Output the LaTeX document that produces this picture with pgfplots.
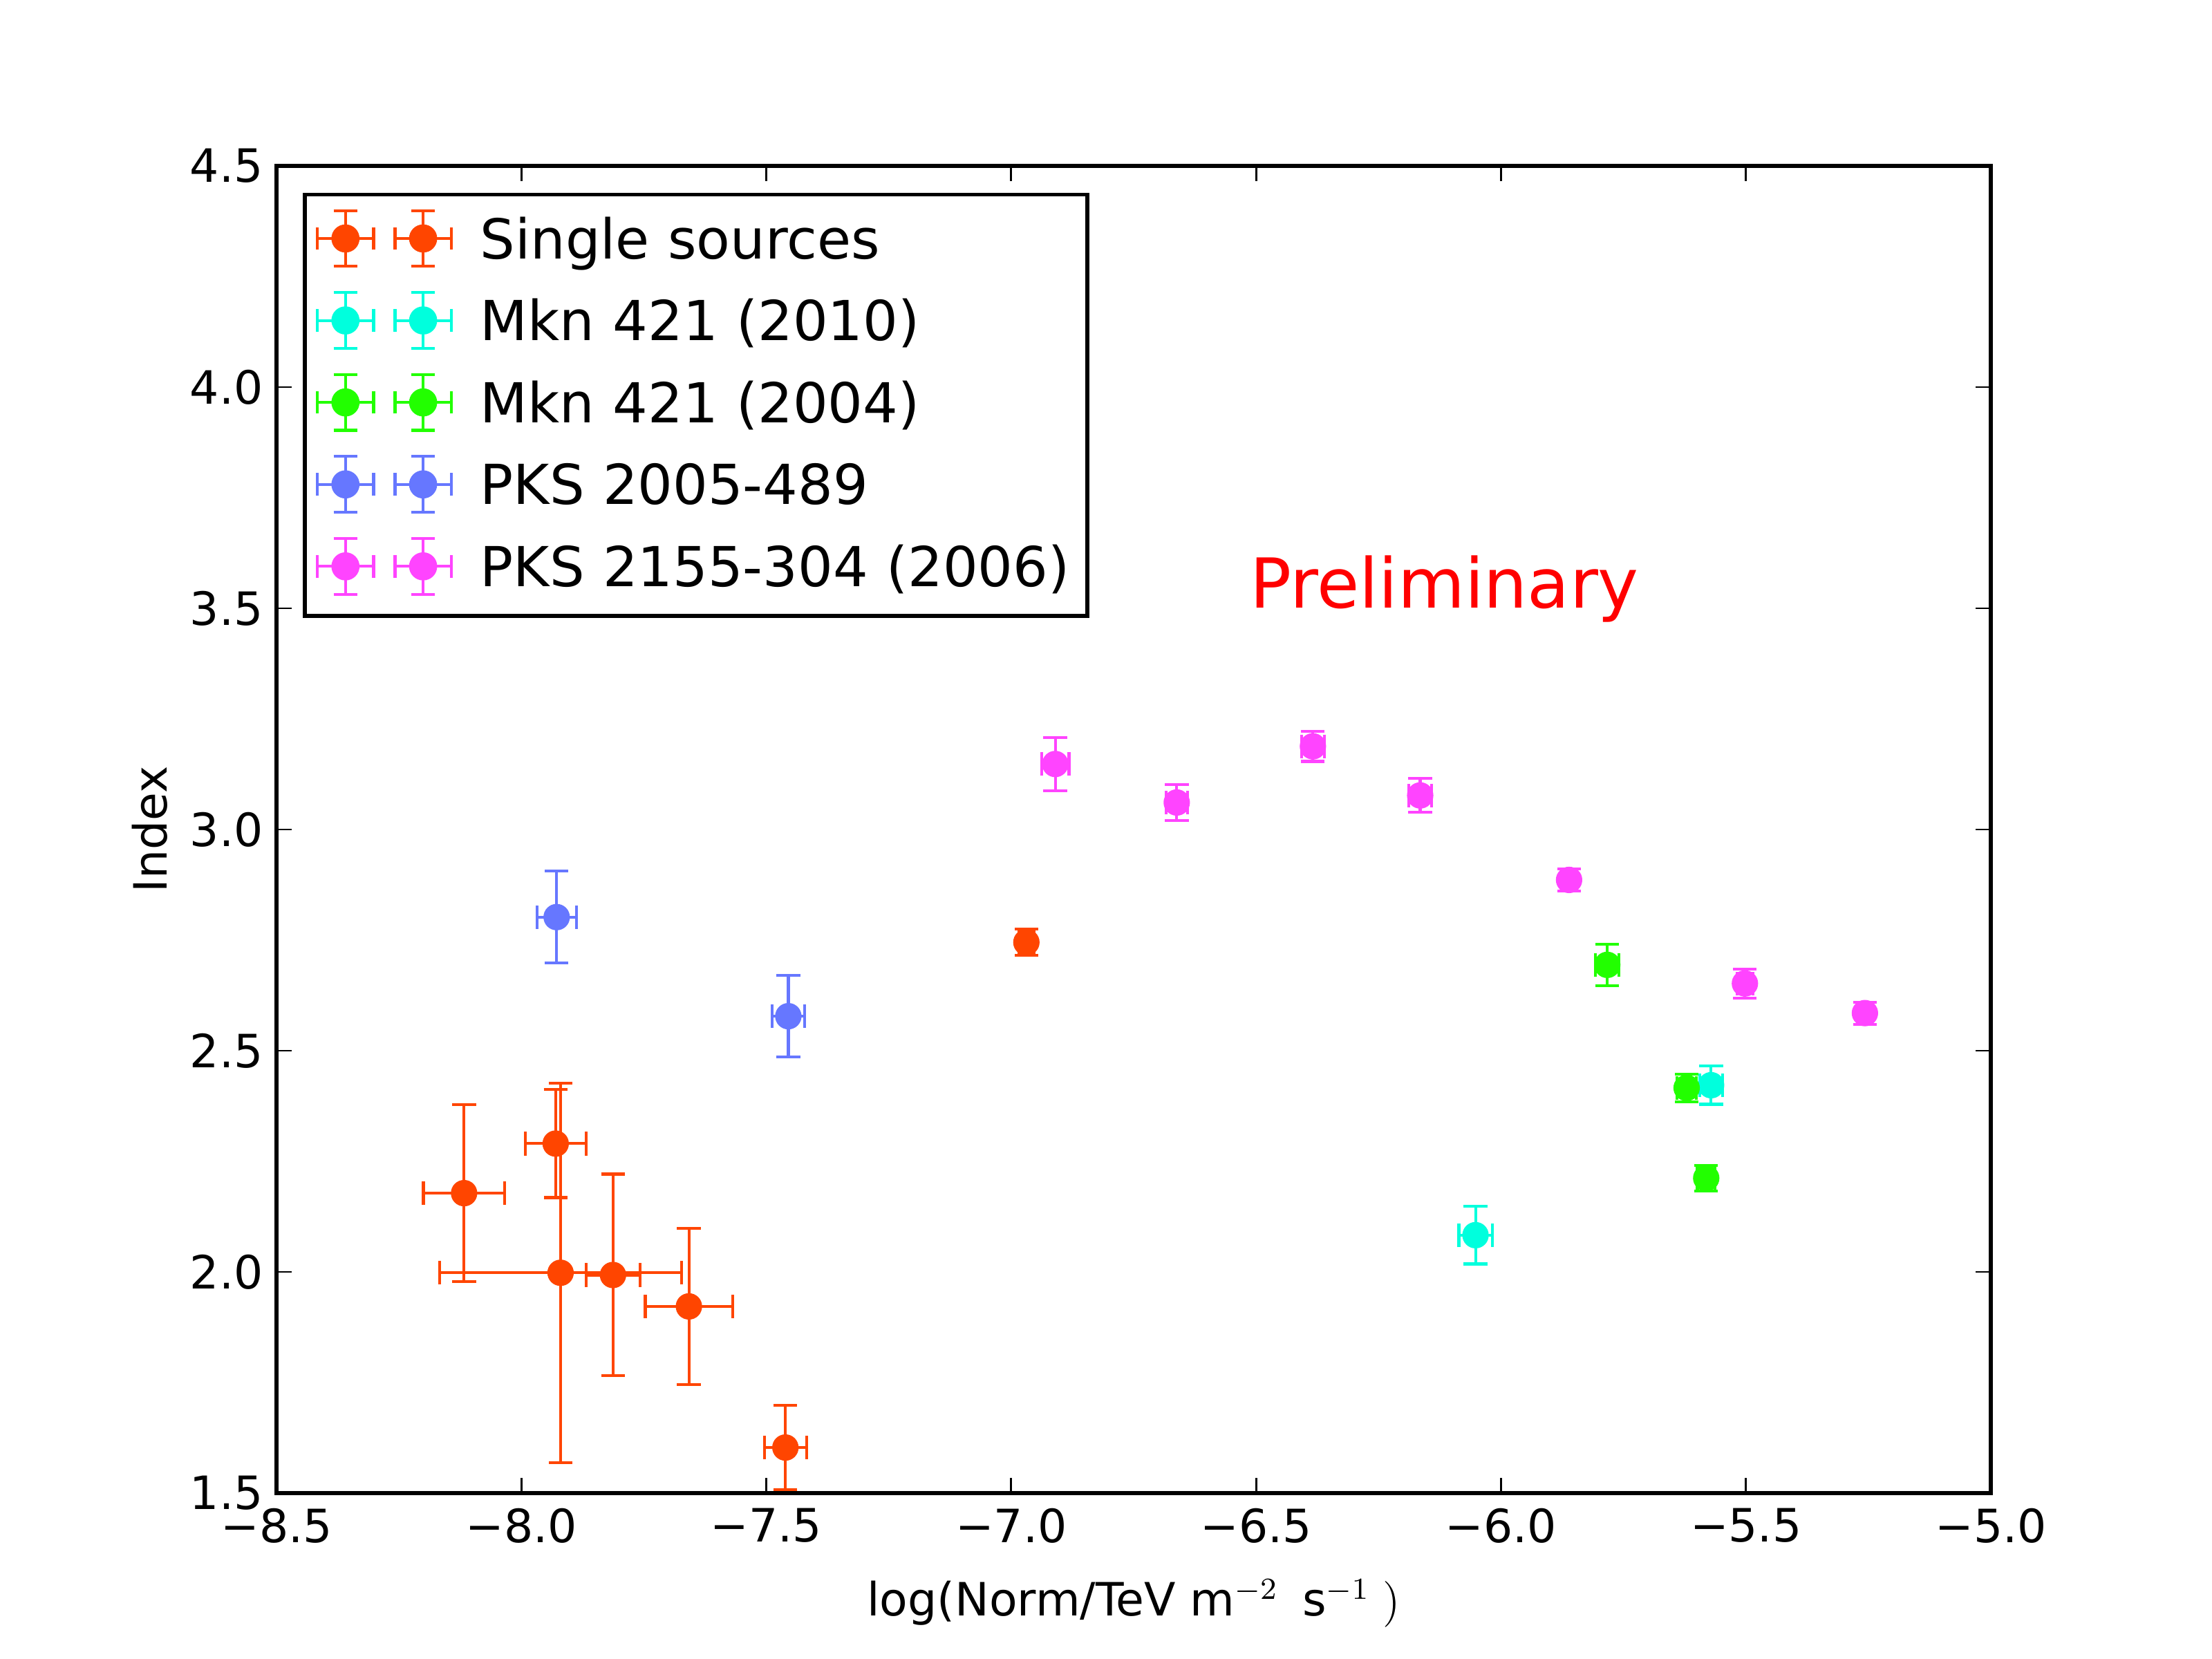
\documentclass[border=0pt]{standalone}
\usepackage{fontspec}
\setmainfont{DejaVu Sans}
\usepackage{pgfplots}
\pgfplotsset{compat=1.18}
\usetikzlibrary{backgrounds}
\definecolor{cOr}{RGB}{255,69,0}
\definecolor{cCy}{RGB}{0,255,221}
\definecolor{cGr}{RGB}{34,255,0}
\definecolor{cBl}{RGB}{102,119,255}
\definecolor{cMa}{RGB}{255,68,255}

\newcommand\legpt[2]{%
 \begin{scope}[shift={(#1,5.25pt)}, draw=#2, fill=#2, line width=0.75pt]
  \draw (-7.35pt,0pt) -- (7.35pt,0pt);
  \draw (-7.35pt,-2.95pt) -- (-7.35pt,2.95pt);
  \draw (7.35pt,-2.95pt) -- (7.35pt,2.95pt);
  \draw (0pt,-7.3pt) -- (0pt,7.3pt);
  \draw (-3.1pt,-7.3pt) -- (3.1pt,-7.3pt);
  \draw (-3.1pt,7.3pt) -- (3.1pt,7.3pt);
  \fill (0pt,0pt) circle[radius=3.3pt];
 \end{scope}}

\pgfplotsset{
 errleg/.style={/pgfplots/legend image code/.code={\legpt{7.35pt}{#1}\legpt{27.65pt}{#1}}},
 series/.style={/pgfplots/errleg=#1, only marks, mark=*, mark size=3.3pt, color=#1,
   mark options={draw=#1, fill=#1, line width=0.3pt},
   error bars/.cd, x dir=both, x explicit, y dir=both, y explicit,
   error mark=|,
   error bar style={line width=0.75pt, color=#1},
   error mark options={line width=0.75pt, mark size=3.1pt, color=#1}}
}

\begin{document}
\begin{tikzpicture}[inner frame sep=0pt, background rectangle/.style={fill=white}, show background rectangle]
\begin{axis}[
  name=ax, scale only axis, width=448.07pt, height=346.90pt,
  xmin=-8.5, xmax=-5, ymin=1.5, ymax=4.5,
  xtick={-8.5,-8.0,-7.5,-7.0,-6.5,-6.0,-5.5,-5.0},
  ytick={1.5,2.0,2.5,3.0,3.5,4.0,4.5},
  xticklabels={−8.5,−8.0,−7.5,−7.0,−6.5,−6.0,−5.5,−5.0},
  yticklabels={1.5,2.0,2.5,3.0,3.5,4.0,4.5},
  tick align=inside, major tick length=4pt, minor tick num=0,
  every tick/.style={black, line width=0.5pt},
  axis line style={line width=1pt},
  tick label style={font=\fontsize{12}{14.4}\selectfont},
  xticklabel style={yshift=-0.5pt},
  xlabel={log(Norm/TeV m$^{-2}$\hspace{2.5pt} s$^{-1}\;)$},
  ylabel={Index},
  label style={font=\fontsize{12}{14.4}\selectfont},
  xlabel style={at={(axis description cs:0.5,-0.09225)}, anchor=base},
  ylabel style={at={(axis description cs:-0.06405,0.5)}, anchor=base},
  legend style={at={(0,1)}, anchor=north west, xshift=6.9pt, yshift=-7pt,
    draw=black, line width=1pt, fill=white,
    inner xsep=2.9pt, inner ysep=3.8pt,
    font=\fontsize{14.4}{17}\selectfont,
    row sep=4.6pt, column sep=7.2pt,
    cells={anchor=base west},
    nodes={inner sep=0pt, text height=12.6pt, text depth=3.9pt, anchor=base west,
      text width=155.8pt, align=left}},
]
\addplot[series=cOr] table[x=x, y=y, x error=ex, y error=ey] {
x y ex ey
-8.117 2.178 0.083 0.200
-7.930 2.290 0.062 0.122
-7.920 1.998 0.247 0.429
-7.813 1.993 0.055 0.228
-7.658 1.922 0.089 0.177
-7.461 1.603 0.043 0.095
-6.969 2.745 0.015 0.030
};
\addlegendentry{Single sources}
\addplot[series=cCy] table[x=x, y=y, x error=ex, y error=ey] {
x y ex ey
-6.052 2.083 0.034 0.065
-5.571 2.422 0.023 0.043
};
\addlegendentry{Mkn 421 (2010)}
\addplot[series=cGr] table[x=x, y=y, x error=ex, y error=ey] {
x y ex ey
-5.783 2.694 0.024 0.047
-5.621 2.416 0.020 0.031
-5.581 2.212 0.018 0.029
};
\addlegendentry{Mkn 421 (2004)}
\addplot[series=cBl] table[x=x, y=y, x error=ex, y error=ey] {
x y ex ey
-7.928 2.802 0.0405 0.104
-7.455 2.578 0.033 0.0925
};
\addlegendentry{PKS 2005-489}
\addplot[series=cMa] table[x=x, y=y, x error=ex, y error=ey] {
x y ex ey
-6.910 3.148 0.028 0.060
-6.662 3.061 0.022 0.041
-6.384 3.188 0.023 0.034
-6.165 3.077 0.023 0.0385
-5.861 2.886 0.016 0.025
-5.502 2.652 0.016 0.033
-5.257 2.585 0.013 0.025
};
\addlegendentry{PKS 2155-304 (2006)}
\node[anchor=base west, inner sep=0pt, xshift=-1.8pt, text=red, font=\fontsize{18}{21.6}\selectfont] at (axis cs:-6.5,3.5) {Preliminary};
\end{axis}
\path (ax.south west) ++(-72.27pt,-43.36pt) rectangle ++(578.16pt,433.62pt);
\end{tikzpicture}
\end{document}
